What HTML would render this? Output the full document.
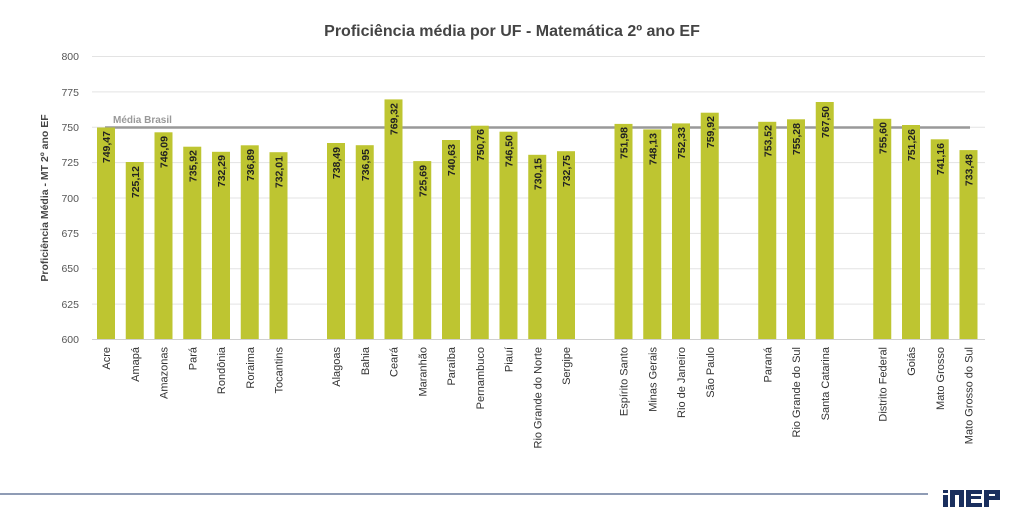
<!DOCTYPE html>
<html><head><meta charset="utf-8"><style>
body{margin:0;background:#fff;}
svg{display:block;font-family:"Liberation Sans",sans-serif;}
.v{font-size:10.5px;font-weight:bold;fill:#222;}
.c{font-size:11px;fill:#333;}
.t{font-size:10.5px;fill:#555;}
</style></head><body>
<svg width="1023" height="516" viewBox="0 0 1023 516">
<text x="512" y="36" text-anchor="middle" font-size="16" font-weight="bold" fill="#444">Proficiência média por UF - Matemática 2º ano EF</text>
<g stroke="#e3e3e3" stroke-width="1">
<line x1="92" x2="985" y1="56.5" y2="56.5"/><line x1="92" x2="985" y1="91.9" y2="91.9"/>
<line x1="92" x2="985" y1="127.3" y2="127.3"/><line x1="92" x2="985" y1="162.6" y2="162.6"/>
<line x1="92" x2="985" y1="198" y2="198"/><line x1="92" x2="985" y1="233.4" y2="233.4"/>
<line x1="92" x2="985" y1="268.8" y2="268.8"/><line x1="92" x2="985" y1="304.1" y2="304.1"/>
<line x1="92" x2="985" y1="339.5" y2="339.5" stroke="#d0d0d0"/>
</g>
<g class="t" text-anchor="end">
<text x="79" y="60">800</text><text x="79" y="96">775</text><text x="79" y="131">750</text><text x="79" y="166">725</text>
<text x="79" y="202">700</text><text x="79" y="237">675</text><text x="79" y="272">650</text><text x="79" y="308">625</text><text x="79" y="343">600</text>
</g>
<text transform="translate(48,198) rotate(-90)" text-anchor="middle" font-size="10.5" font-weight="bold" fill="#444">Proficiência Média - MT 2º ano EF</text>
<text x="113" y="123" font-size="10" font-weight="bold" fill="#999">Média Brasil</text>
<line x1="105" x2="970" y1="127.5" y2="127.5" stroke="#999" stroke-width="2.5"/>
<g fill="#bec531">
<rect x="97" y="127.5" width="18" height="211.5"/>
<rect x="125.75" y="162" width="18" height="177"/>
<rect x="154.5" y="132.3" width="18" height="206.7"/>
<rect x="183.25" y="146.7" width="18" height="192.3"/>
<rect x="212" y="151.8" width="18" height="187.2"/>
<rect x="240.75" y="145.3" width="18" height="193.7"/>
<rect x="269.5" y="152.2" width="18" height="186.8"/>
<rect x="327" y="143" width="18" height="196"/>
<rect x="355.75" y="145.2" width="18" height="193.8"/>
<rect x="384.5" y="99.4" width="18" height="239.6"/>
<rect x="413.25" y="161.1" width="18" height="177.9"/>
<rect x="442" y="140" width="18" height="199"/>
<rect x="470.75" y="125.7" width="18" height="213.3"/>
<rect x="499.5" y="131.7" width="18" height="207.3"/>
<rect x="528.25" y="154.8" width="18" height="184.2"/>
<rect x="557" y="151.2" width="18" height="187.8"/>
<rect x="614.5" y="123.9" width="18" height="215.1"/>
<rect x="643.25" y="129.4" width="18" height="209.6"/>
<rect x="672" y="123.4" width="18" height="215.6"/>
<rect x="700.75" y="112.7" width="18" height="226.3"/>
<rect x="758.25" y="121.8" width="18" height="217.2"/>
<rect x="787" y="119.3" width="18" height="219.7"/>
<rect x="815.75" y="102" width="18" height="237"/>
<rect x="873.25" y="118.8" width="18" height="220.2"/>
<rect x="902" y="125" width="18" height="214"/>
<rect x="930.75" y="139.3" width="18" height="199.7"/>
<rect x="959.5" y="150.1" width="18" height="188.9"/>
</g>
<g class="v" text-anchor="end">
<text transform="translate(110,131) rotate(-90)">749,47</text>
<text transform="translate(138.75,166) rotate(-90)">725,12</text>
<text transform="translate(167.5,136) rotate(-90)">746,09</text>
<text transform="translate(196.25,150) rotate(-90)">735,92</text>
<text transform="translate(225,155) rotate(-90)">732,29</text>
<text transform="translate(253.75,149) rotate(-90)">736,89</text>
<text transform="translate(282.5,156) rotate(-90)">732,01</text>
<text transform="translate(340,147) rotate(-90)">738,49</text>
<text transform="translate(368.75,149) rotate(-90)">736,95</text>
<text transform="translate(397.5,103) rotate(-90)">769,32</text>
<text transform="translate(426.25,165) rotate(-90)">725,69</text>
<text transform="translate(455,144) rotate(-90)">740,63</text>
<text transform="translate(483.75,129) rotate(-90)">750,76</text>
<text transform="translate(512.5,135) rotate(-90)">746,50</text>
<text transform="translate(541.25,158) rotate(-90)">730,15</text>
<text transform="translate(570,155) rotate(-90)">732,75</text>
<text transform="translate(627.5,127) rotate(-90)">751,98</text>
<text transform="translate(656.25,133) rotate(-90)">748,13</text>
<text transform="translate(685,127) rotate(-90)">752,33</text>
<text transform="translate(713.75,116) rotate(-90)">759,92</text>
<text transform="translate(771.25,125) rotate(-90)">753,52</text>
<text transform="translate(800,123) rotate(-90)">755,28</text>
<text transform="translate(828.75,106) rotate(-90)">767,50</text>
<text transform="translate(886.25,122) rotate(-90)">755,60</text>
<text transform="translate(915,129) rotate(-90)">751,26</text>
<text transform="translate(943.75,143) rotate(-90)">741,16</text>
<text transform="translate(972.5,154) rotate(-90)">733,48</text>
</g>
<g class="c" text-anchor="end">
<text transform="translate(110,347) rotate(-90)">Acre</text>
<text transform="translate(138.75,347) rotate(-90)">Amapá</text>
<text transform="translate(167.5,347) rotate(-90)">Amazonas</text>
<text transform="translate(196.25,347) rotate(-90)">Pará</text>
<text transform="translate(225,347) rotate(-90)">Rondônia</text>
<text transform="translate(253.75,347) rotate(-90)">Roraima</text>
<text transform="translate(282.5,347) rotate(-90)">Tocantins</text>
<text transform="translate(340,347) rotate(-90)">Alagoas</text>
<text transform="translate(368.75,347) rotate(-90)">Bahia</text>
<text transform="translate(397.5,347) rotate(-90)">Ceará</text>
<text transform="translate(426.25,347) rotate(-90)">Maranhão</text>
<text transform="translate(455,347) rotate(-90)">Paraíba</text>
<text transform="translate(483.75,347) rotate(-90)">Pernambuco</text>
<text transform="translate(512.5,347) rotate(-90)">Piauí</text>
<text transform="translate(541.25,347) rotate(-90)">Rio Grande do Norte</text>
<text transform="translate(570,347) rotate(-90)">Sergipe</text>
<text transform="translate(627.5,347) rotate(-90)">Espírito Santo</text>
<text transform="translate(656.25,347) rotate(-90)">Minas Gerais</text>
<text transform="translate(685,347) rotate(-90)">Rio de Janeiro</text>
<text transform="translate(713.75,347) rotate(-90)">São Paulo</text>
<text transform="translate(771.25,347) rotate(-90)">Paraná</text>
<text transform="translate(800,347) rotate(-90)">Rio Grande do Sul</text>
<text transform="translate(828.75,347) rotate(-90)">Santa Catarina</text>
<text transform="translate(886.25,347) rotate(-90)">Distrito Federal</text>
<text transform="translate(915,347) rotate(-90)">Goiás</text>
<text transform="translate(943.75,347) rotate(-90)">Mato Grosso</text>
<text transform="translate(972.5,347) rotate(-90)">Mato Grosso do Sul</text>
</g>
<line x1="0" x2="928" y1="494" y2="494" stroke="#1f3a6b" stroke-width="1"/>
<g fill="#1a2f5e">
<rect x="943" y="490" width="5" height="3"/>
<rect x="943" y="495" width="5" height="12"/>
<path d="M950 490h14v17h-5v-12h-4v12h-5z"/>
<path d="M966 490h16v4h-11v2h10v3h-10v4h11v4h-16z"/>
<path d="M984 490h16v10h-11v7h-5zM989 494v2h6v-2z"/>
</g>
</svg>
</body></html>
